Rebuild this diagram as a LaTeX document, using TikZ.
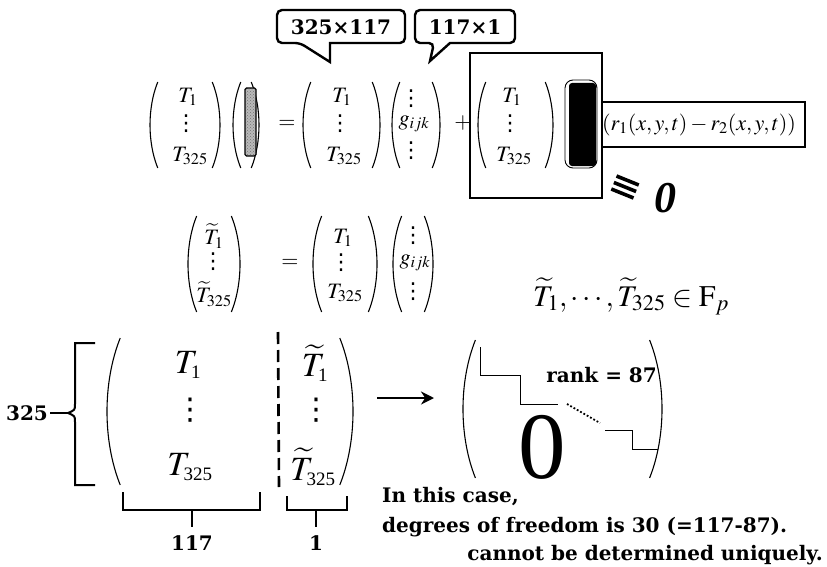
\documentclass[tikz,border=0pt]{standalone}
\usepackage{mathptmx}
\usepackage[no-math]{fontspec}
\setmainfont{Liberation Serif}
\newfontfamily\bfser{DejaVu Serif}
\newfontfamily\dvsans{DejaVu Sans}
\usetikzlibrary{arrows.meta,patterns}
\newcommand\myLP[3]{\draw[parn] ({#1+0.09*(#3-#2)},#2) .. controls ({#1-0.03*(#3-#2)},{#2+0.3*(#3-#2)}) and ({#1-0.03*(#3-#2)},{#2+0.7*(#3-#2)}) .. ({#1+0.09*(#3-#2)},#3);}
\newcommand\myRP[3]{\draw[parn] ({#1-0.09*(#3-#2)},#2) .. controls ({#1+0.03*(#3-#2)},{#2+0.3*(#3-#2)}) and ({#1+0.03*(#3-#2)},{#2+0.7*(#3-#2)}) .. ({#1-0.09*(#3-#2)},#3);}
\newcommand\bsub[1]{\mbox{\fontsize{19}{19}\selectfont #1}}
\begin{document}
\begin{tikzpicture}[x=1pt,y=-1pt,
  parn/.style={line width=1.1pt},
  callout/.style={line width=2.4pt, rounded corners=5pt, fill=white},
  boxline/.style={line width=1.6pt},
  mth/.style={inner sep=0pt, font=\fontsize{22}{24}\selectfont},
  mthL/.style={inner sep=0pt, font=\fontsize{34}{36}\selectfont},
  vd/.style={inner sep=0pt, font=\dvsans\fontsize{22}{22}\selectfont},
  vdL/.style={inner sep=0pt, font=\dvsans\fontsize{30}{30}\selectfont},
  bold/.style={inner sep=0pt, font=\bfser\bfseries\fontsize{20}{22}\selectfont},
  brc/.style={line width=2pt},
]
\useasboundingbox (0,0) rectangle (827,567);

% ---------- callouts
\draw[callout] (300,43) [sharp corners] -- (330,62) -- (330,43) [rounded corners=5pt] -- (405,43) -- (405,10) -- (277,10) -- (277,43) -- cycle;
\node[bold] (c1) at (341,27) {325×117};
\draw[callout] (434,43) [sharp corners] -- (430,61) -- (450,43) [rounded corners=5pt] -- (515,43) -- (515,10) -- (415,10) -- (415,43) -- cycle;
\node[bold] (c2) at (465,27) {117×1};

% ---------- row 1
\myLP{150}{82}{168}\myRP{220}{82}{168}
\node[mth] (a1) at (188,97) {$T_1$};
\node[vd] (a2) at (186,124) {⋮};
\node[mth] (a3) at (190,156) {$T_{325}$};
\myLP{233}{82}{168}\myRP{259}{82}{168}
\fill[gray!55, rounded corners=1.5pt] (245,88) rectangle (256,156);
\draw[line width=1.4pt, pattern=crosshatch dots, pattern color=black!55, rounded corners=1.5pt] (245,88) rectangle (256,156);
\node[mth] (eq1) at (287,124) {$=$};
\myLP{303}{82}{168}\myRP{380}{82}{168}
\node[mth] (b1) at (342,97) {$T_1$};
\node[vd] (b2) at (340,124) {⋮};
\node[mth] (b3) at (344,156) {$T_{325}$};
\myLP{392}{82}{168}\myRP{440}{82}{168}
\node[vd] (g1) at (411,99) {⋮};
\node[mth] (g2) at (414,124) {$g_{ijk}$};
\node[vd] (g3) at (411,151) {⋮};
\node[mth] (pl) at (463,123) {$+$};
\draw[boxline] (470,53) rectangle (602,198);
\myLP{478}{82}{168}\myRP{553}{82}{168}
\node[mth] (d1) at (512,97) {$T_1$};
\node[vd] (d2) at (510,124) {⋮};
\node[mth] (d3) at (514,156) {$T_{325}$};
\draw[line width=0.9pt, rounded corners=8pt] (565,80) rectangle (597,168);
\fill[black, rounded corners=3pt] (569,83) rectangle (596,166);
\draw[boxline, fill=white] (602,102) rectangle (805,147);
\node[inner sep=0pt, font=\fontsize{22}{24}\selectfont] (rr) at (699,125) {$(r_1(x,y,t)-r_2(x,y,t))$};
\begin{scope}[shift={(625,187)}, rotate=-22]
  \foreach \dy in {-7,0,7} \draw[line width=3.6pt] (-12,\dy) -- (12,\dy);
\end{scope}
\node[inner sep=0pt, font=\fontsize{44}{44}\selectfont\bfseries\itshape] (zz) at (665,198) {0};

% ---------- row 2
\myLP{188}{216}{312}\myRP{240}{216}{312}
\node[mth] (t1) at (214,236) {$\widetilde{T}_1$};
\node[vd] (t2) at (213,262) {⋮};
\node[mth] (t3) at (214,294) {$\widetilde{T}_{325}$};
\node[mth] (eq2) at (290,263) {$=$};
\myLP{313}{216}{312}\myRP{377}{216}{312}
\node[mth] (e1) at (343,238) {$T_1$};
\node[vd] (e2) at (341,263) {⋮};
\node[mth] (e3) at (345,293) {$T_{325}$};
\myLP{393}{216}{312}\myRP{433}{216}{312}
\node[vd] (h1) at (413,236) {⋮};
\node[mth] (h2) at (415,263) {$g_{ijk}$};
\node[vd] (h3) at (413,292) {⋮};
\node[inner sep=0pt, font=\fontsize{30}{32}\selectfont, anchor=base] (fp) at (631,306) {$\widetilde{T}_1,\cdots,\widetilde{T}_{325}\in\mathrm{F}_p$};

% ---------- bottom
\node[bold] (n325) at (27,413) {325};
\draw[brc] (95,343) -- (75,343) -- (75,404) .. controls (75,410) .. (68,413) .. controls (75,416) .. (75,422) -- (75,485) -- (95,485);
\draw[brc] (n325.east) ++(2,0) -- (68,413);
\myLP{107}{338}{485}\myRP{353}{338}{485}
\node[mthL] (p1) at (188,365) {$T_{\bsub{1}}$};
\node[vdL] (p2) at (190,410) {⋮};
\node[mthL] (p3) at (190,467) {$T_{\bsub{325}}$};
\draw[line width=2.6pt, dash pattern=on 12pt off 6pt] (278,332) -- (279,487);
\node[mthL] (q1) at (315,363) {$\widetilde{T}_{\bsub{1}}$};
\node[vdL] (q2) at (316,410) {⋮};
\node[mthL] (q3) at (313,467) {$\widetilde{T}_{\bsub{325}}$};
\draw[brc] (123,492) -- (123,510) -- (260,510) -- (260,492);
\draw[brc] (192,510) -- (192,527);
\node[bold] (n117) at (192,543) {117};
\draw[brc] (287,496) -- (287,510) -- (347,510) -- (347,496);
\draw[brc] (316,510) -- (316,527);
\node[bold] (n1) at (316,543) {1};
\coordinate (ar1) at (377,398);
\coordinate (ar2) at (434,398);
\draw[line width=2.6pt, -{Stealth[length=13pt,width=13pt]}] (ar1) -- (ar2);
\myLP{463}{340}{478}\myRP{662}{340}{478}
\draw[line width=1pt] (480,347) -- (480,375) -- (520,375) -- (520,404) -- (558,404);
\draw[line width=1.8pt, dotted] (567,404) -- (600,423);
\draw[line width=1pt] (605,430) -- (632,430) -- (632,449) -- (658,449);
\node[bold, anchor=east] (rk) at (657,375) {rank = 87};
\node[inner sep=0pt, font=\fontsize{95}{95}\selectfont] (big0) at (542,447) {0};
\node[bold, anchor=base west] (l1) at (382,502) {In this case,};
\node[bold, anchor=base west] (l2) at (382,532) {degrees of freedom is 30 (=117-87).};
\node[bold, anchor=base east] (l3) at (823,560) {cannot be determined uniquely.};
\end{tikzpicture}
\end{document}
